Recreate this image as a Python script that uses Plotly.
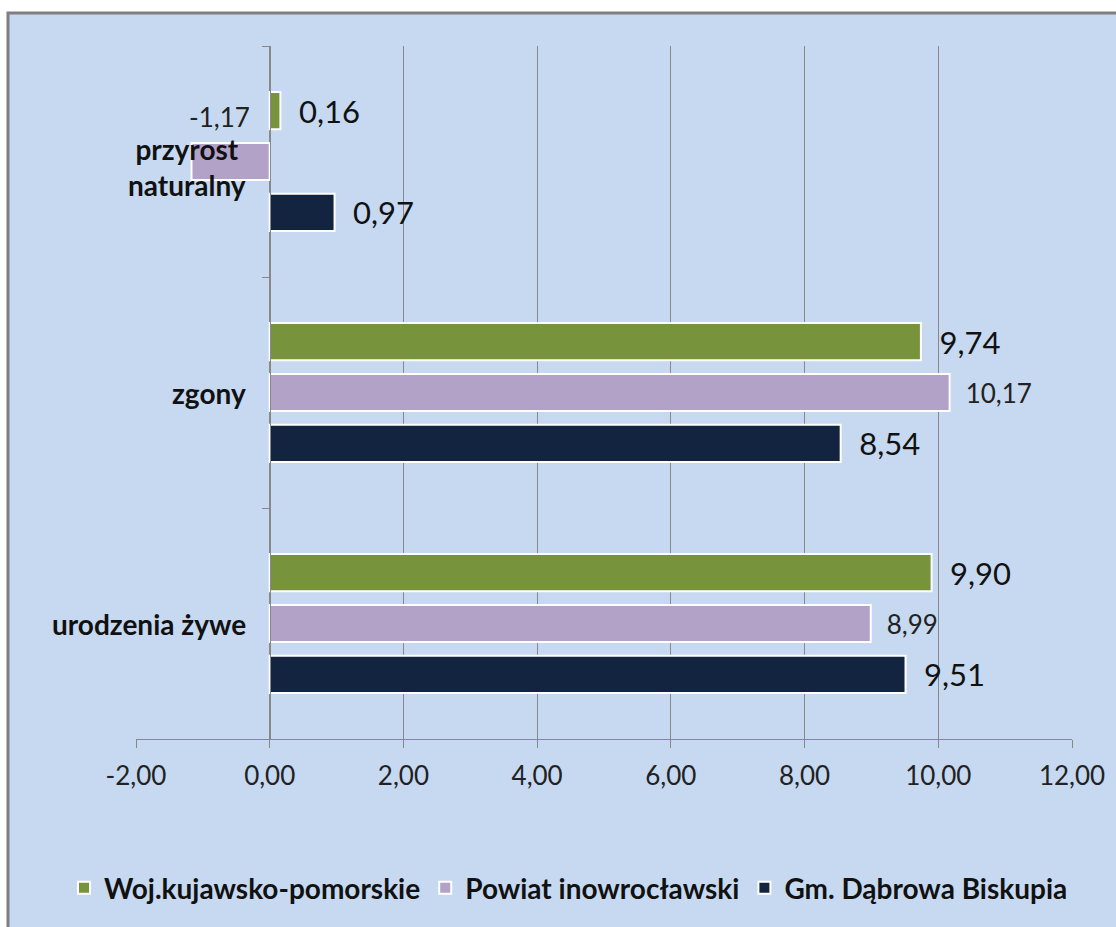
import plotly.graph_objects as go

categories = ["urodzenia żywe", "zgony", "przyrost naturalny"]
category_labels = ["urodzenia żywe", "zgony", "przyrost<br>naturalny"]
woj = [9.90, 9.74, 0.16]
powiat = [8.99, 10.17, -1.17]
gmina = [9.51, 8.54, 0.97]
series_names = ["Woj.kujawsko-pomorskie", "Powiat inowrocławski", "Gm. Dąbrowa Biskupia"]
x_ticks = [-2, 0, 2, 4, 6, 8, 10, 12]

def fmt(v):
    return f"{v:.2f}".replace(".", ",")

PAD = "\u2002"  # visual gap between bar end and its label
FONT = "Lato"
GRID = "#888888"

fig = go.Figure()

# drawn bottom-to-top within each group
fig.add_trace(go.Bar(
    y=categories, x=gmina, orientation="h", name=series_names[2],
    marker=dict(color="#12243F", line=dict(color="white", width=2)),
    text=[PAD + fmt(v) for v in gmina], textposition="outside", constraintext="none",
    textfont=dict(family=FONT, size=31, color="#111111"), cliponaxis=False,
))
fig.add_trace(go.Bar(
    y=categories, x=powiat, orientation="h", name=series_names[1],
    marker=dict(color="#B3A2C7", line=dict(color="white", width=2)),
    text=[PAD + fmt(v) for v in powiat],
    textposition=["outside" if v >= 0 else "none" for v in powiat], constraintext="none",
    textfont=dict(family=FONT, size=26, color="#222222"), cliponaxis=False,
))
fig.add_trace(go.Bar(
    y=categories, x=woj, orientation="h", name=series_names[0],
    marker=dict(color="#77933C", line=dict(color="white", width=2)),
    text=[PAD + fmt(v) for v in woj], textposition="outside", constraintext="none",
    textfont=dict(family=FONT, size=31, color="#111111"), cliponaxis=False,
))

annotations = []
for cat, lab in zip(categories, category_labels):
    multi = "<br>" in lab
    annotations.append(dict(
        x=0, y=cat, xref="x", yref="y", text=f"<b>{lab}</b>", showarrow=False,
        xanchor="right", align="center", xshift=-22, yshift=-5 if multi else 0,
        font=dict(family=FONT, size=28, color="#111111"),
    ))
# negative value label placed above its bar
for cat, v in zip(categories, powiat):
    if v < 0:
        annotations.append(dict(
            x=v, y=cat, xref="x", yref="y", text=fmt(v), showarrow=False,
            xanchor="left", xshift=-4, yshift=45,
            font=dict(family=FONT, size=26, color="#222222"),
        ))

L, R, T, B = 136, 44, 46, 188
W, H = 1116, 927
pw, ph = W - L - R, H - T - B

def px_x(x):
    return (x - L) / pw

def px_y(y):
    return (H - B - y) / ph

fig.update_layout(
    width=W, height=H,
    margin=dict(l=L, r=R, t=T, b=B, autoexpand=False),
    paper_bgcolor="white",
    plot_bgcolor="rgba(0,0,0,0)",
    barmode="group", bargap=0.338, bargroupgap=0.27,
    separators=", ",
    font=dict(family=FONT, color="#111111"),
    xaxis=dict(
        range=[-2, 12], tickvals=x_ticks, ticktext=[fmt(v) for v in x_ticks],
        showgrid=True, gridcolor=GRID, gridwidth=1,
        showline=True, linecolor=GRID, linewidth=1,
        ticks="outside", ticklen=8, tickcolor=GRID, ticklabelstandoff=6,
        zeroline=False, tickfont=dict(family=FONT, size=26, color="#222222"),
    ),
    yaxis=dict(
        type="category", categoryorder="array", categoryarray=categories,
        anchor="free", position=(0 - (-2)) / (12 - (-2)),
        showline=True, linecolor=GRID, linewidth=1,
        ticks="outside", tickson="boundaries", ticklen=8, tickcolor=GRID,
        showticklabels=False, showgrid=False, zeroline=False,
    ),
    legend=dict(
        orientation="h", traceorder="reversed",
        x=px_x(64), xanchor="left", y=px_y(888), yanchor="middle",
        font=dict(family=FONT, size=28, color="#111111"),
        bgcolor="rgba(0,0,0,0)", itemwidth=30,
    ),
    annotations=annotations,
    shapes=[dict(
        type="rect", xref="paper", yref="paper", layer="below",
        x0=px_x(8), x1=px_x(1125), y0=px_y(940), y1=px_y(13),
        fillcolor="#C6D9F1", line=dict(color="#7F7F7F", width=3),
    )],
    showlegend=True,
)
for tr in fig.data:
    tr.name = f"<b>{tr.name}</b>"

fig.write_html("out.html", config={"displayModeBar": False},
               post_script="document.body.style.margin='0';")
